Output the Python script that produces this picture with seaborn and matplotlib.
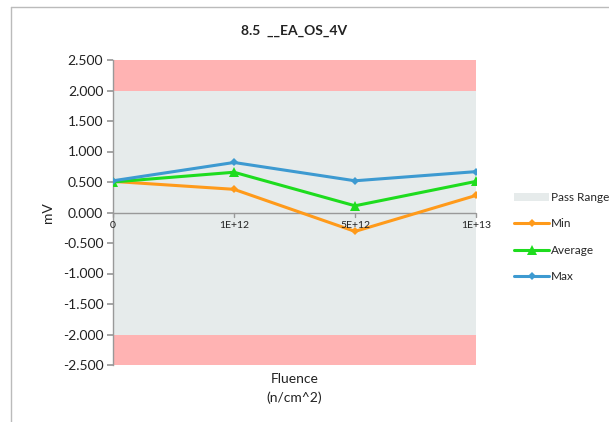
import matplotlib
matplotlib.use("Agg")
import matplotlib.pyplot as plt
import seaborn as sns
import pandas as pd
import numpy as np
from matplotlib.patches import Patch
from matplotlib.lines import Line2D

categories = ["0", "1E+12", "5E+12", "1E+13"]
min_vals = [0.51, 0.38, -0.31, 0.28]
avg_vals = [0.50, 0.66, 0.11, 0.51]
max_vals = [0.52, 0.82, 0.52, 0.67]
pass_low, pass_high = -2.0, 2.0
y_low, y_high = -2.5, 2.5
yticks = [-2.5, -2.0, -1.5, -1.0, -0.5, 0.0, 0.5, 1.0, 1.5, 2.0, 2.5]

sns.set_theme(style="white")
plt.rcParams['font.family'] = ['Lato', 'DejaVu Sans']

fig = plt.figure(figsize=(6.09, 4.22), dpi=100)
ax = fig.add_axes([113/609, 1-365/422, (476-113)/609, (365-60)/422])

xpos = np.arange(len(categories))
ax.axhspan(pass_high, y_high, color="#FFB3B3", lw=0, zorder=0)
ax.axhspan(y_low, pass_low, color="#FFB3B3", lw=0, zorder=0)
ax.axhspan(pass_low, pass_high, color="#E6EBEB", lw=0, zorder=0)

df = pd.DataFrame({
    "x": np.tile(xpos, 3),
    "val": min_vals + avg_vals + max_vals,
    "series": ["Min"] * 4 + ["Average"] * 4 + ["Max"] * 4,
})
colors = {"Min": "#FF9A1A", "Average": "#1EDC1E", "Max": "#3D9AD1"}
markers = {"Min": "D", "Average": "^", "Max": "D"}
sizes_m = {"Min": 4.5, "Average": 6.5, "Max": 4.5}
for s in ["Min", "Average", "Max"]:
    sub = df[df.series == s]
    sns.lineplot(data=sub, x="x", y="val", ax=ax, color=colors[s], lw=2.2,
                 marker=markers[s], markersize=sizes_m[s], markeredgewidth=0,
                 legend=False, zorder=3)

ax.set_xlim(0, len(categories) - 1)
ax.set_ylim(y_low, y_high)
ax.set_yticks(yticks)
ax.set_yticklabels([f"{v:.3f}" for v in yticks], fontsize=10, color="#222222")
ax.set_xticks([])
for sp in ["top", "right", "bottom"]:
    ax.spines[sp].set_visible(False)
ax.spines["left"].set_color("#999999")
ax.spines["left"].set_linewidth(1)
ax.tick_params(axis="y", which="both", left=True, length=4, color="#999999", pad=3)
ax.axhline(0, color="#999999", lw=1, zorder=2)
for i, c in enumerate(categories):
    ax.plot([i, i], [0, -0.07], color="#999999", lw=1, zorder=2, clip_on=False)
    ax.text(i, -0.14, c, ha="center", va="top", fontsize=7.5, color="#222222", zorder=4)

ax.set_ylabel("mV", fontsize=10, color="#222222", labelpad=6)
ax.set_xlabel("Fluence\n(n/cm^2)", fontsize=10, color="#222222", labelpad=6, linespacing=1.6)
ax.set_title("8.5  __EA_OS_4V", fontsize=10, fontweight="bold", color="#222222", pad=18)

handles = [
    Patch(facecolor="#E6EBEB", edgecolor="none", label="Pass Range"),
    Line2D([], [], color=colors["Min"], lw=2.2, marker="D", markersize=4.5, markeredgewidth=0, label="Min"),
    Line2D([], [], color=colors["Average"], lw=2.2, marker="^", markersize=6.5, markeredgewidth=0, label="Average"),
    Line2D([], [], color=colors["Max"], lw=2.2, marker="D", markersize=4.5, markeredgewidth=0, label="Max"),
]
fig.legend(handles=handles, loc="upper left", bbox_to_anchor=(514/609, 1-192/422),
           frameon=False, fontsize=8.5, handlelength=3.0, handletextpad=0.1,
           labelspacing=1.3, borderaxespad=0, borderpad=0)

fig.add_artist(Line2D([11/609, 11/609], [0, 1-7/422], color="#BBBBBB", lw=1, transform=fig.transFigure))
fig.add_artist(Line2D([11/609, 1], [1-7/422, 1-7/422], color="#BBBBBB", lw=1, transform=fig.transFigure))

fig.savefig("out.png", dpi=100)
